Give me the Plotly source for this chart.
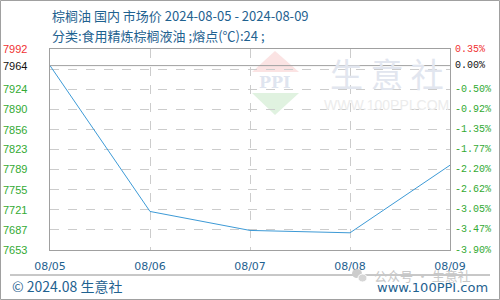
import plotly.graph_objects as go

dates = ["08/05", "08/06", "08/07", "08/08", "08/09"]
prices = [7964, 7718, 7686, 7682, 7796]
base_price = 7964
left_labels = ["7992", "7964", "7924", "7890", "7856", "7823", "7789", "7755", "7721", "7687", "7653"]
right_labels = ["0.35%", "0.00%", "-0.50%", "-0.92%", "-1.35%", "-1.77%", "-2.20%", "-2.62%", "-3.05%", "-3.47%", "-3.90%"]
y_min, y_max = 7653, 7992

title1 = "棕榈油 国内 市场价 2024-08-05 - 2024-08-09"
title2 = "分类:食用精炼棕榈液油 ;熔点(℃):24 ;"
footer_left = "© 2024.08 生意社"
footer_right = "www.100PPI.com"

W, H = 500, 300
L, R, T, B = 50, 50, 49, 50
PW, PH = W - L - R, H - T - B

def px(x):
    return (x - L) / PW

def py(y):
    return (H - B - y) / PH

RED = "#f03232"
GREEN = "#33aa33"
BLUE = "#1f6290"
CJK = "Noto Sans CJK SC"

fig = go.Figure()
fig.add_trace(go.Scatter(
    x=list(range(len(dates))), y=prices, mode="lines",
    line=dict(color="#3d9ad6", width=1), hoverinfo="skip", showlegend=False))

shapes = []
annotations = []

# watermark logo
shapes.append(dict(type="path", xref="paper", yref="paper", layer="below",
                   path=f"M {px(252)} {py(72)} L {px(275)} {py(51)} L {px(299)} {py(72)} Z",
                   fillcolor="#fbe3e3", line=dict(width=0)))
shapes.append(dict(type="path", xref="paper", yref="paper", layer="below",
                   path=f"M {px(252)} {py(93)} L {px(275)} {py(115)} L {px(299)} {py(93)} Z",
                   fillcolor="#e0f2e0", line=dict(width=0)))
annotations.append(dict(xref="paper", yref="paper", x=px(275), y=py(82), text="<b>PPI</b>",
                        showarrow=False, font=dict(family="DejaVu Serif", size=16, color="#dfe5f0"),
                        xanchor="center", yanchor="middle"))
annotations.append(dict(xref="paper", yref="paper", x=px(387), y=py(73), text="生 意 社",
                        showarrow=False, font=dict(family=CJK, size=33, color="#e2e6ef"),
                        xanchor="center", yanchor="middle"))
annotations.append(dict(xref="paper", yref="paper", x=px(386), y=py(105), text="WWW.100PPI.COM",
                        showarrow=False, font=dict(family="Liberation Sans", size=14, color="#ececec"),
                        xanchor="center", yanchor="middle"))

# base price line
shapes.append(dict(type="line", xref="paper", yref="y", x0=0, x1=1, y0=base_price, y1=base_price,
                   line=dict(color="#a0a0a0", width=1)))

# outer border and footer separator
shapes.append(dict(type="rect", xref="paper", yref="paper", x0=px(0.5), x1=px(499.5), y0=py(0.5), y1=py(299.5),
                   line=dict(color="#a0a0a0", width=1)))
shapes.append(dict(type="line", xref="paper", yref="paper", x0=px(10), x1=px(490), y0=py(275), y1=py(275),
                   line=dict(color="#909090", width=1)))

# wechat icon
shapes.append(dict(type="circle", xref="paper", yref="paper", x0=px(352), x1=px(362), y0=py(269), y1=py(278),
                   fillcolor="#cccccc", line=dict(width=0)))
shapes.append(dict(type="circle", xref="paper", yref="paper", x0=px(358), x1=px(367), y0=py(274), y1=py(282),
                   fillcolor="#d6d6d6", line=dict(color="white", width=1)))

# titles
annotations.append(dict(xref="paper", yref="paper", x=px(50), y=py(15), text=title1, showarrow=False,
                        xanchor="left", yanchor="middle", font=dict(family=CJK, size=13, color=BLUE)))
annotations.append(dict(xref="paper", yref="paper", x=px(50), y=py(35), text=title2, showarrow=False,
                        xanchor="left", yanchor="middle", font=dict(family=CJK, size=13, color=BLUE)))

# axis labels
for i, (ll, rl) in enumerate(zip(left_labels, right_labels)):
    col = RED if i == 0 else ("#111111" if i == 1 else GREEN)
    yv = float(ll)
    annotations.append(dict(xref="paper", yref="y", x=px(29), y=yv, text=ll, showarrow=False,
                            xanchor="right", yanchor="middle",
                            font=dict(family="Liberation Sans", size=11, color=col)))
    annotations.append(dict(xref="paper", yref="y", x=px(453), y=yv, text=rl, showarrow=False,
                            xanchor="left", yanchor="middle",
                            font=dict(family="Liberation Mono", size=10, color=col)))

# footer
annotations.append(dict(xref="paper", yref="paper", x=px(10), y=py(286), text=footer_left, showarrow=False,
                        xanchor="left", yanchor="middle", font=dict(family=CJK, size=14, color=BLUE)))
annotations.append(dict(xref="paper", yref="paper", x=px(490), y=py(287), text=footer_right, showarrow=False,
                        xanchor="right", yanchor="middle", font=dict(family="DejaVu Sans", size=13, color=BLUE)))
annotations.append(dict(xref="paper", yref="paper", x=px(372), y=py(275), text="公众号 · 生意社", showarrow=False,
                        xanchor="left", yanchor="middle", font=dict(family=CJK, size=13, color="#c8c8c8")))

fig.update_layout(
    width=W, height=H, margin=dict(l=L, r=R, t=T, b=B, pad=0),
    paper_bgcolor="white", plot_bgcolor="white",
    shapes=shapes, annotations=annotations,
    xaxis=dict(range=[0, len(dates) - 1], tickvals=list(range(len(dates))), ticktext=dates,
               showgrid=True, gridcolor="#cccccc", griddash="dash", gridwidth=1,
               showline=True, mirror=True, linecolor="#a0a0a0", linewidth=1,
               ticks="outside", ticklen=6, tickcolor="rgba(0,0,0,0)", zeroline=False,
               tickfont=dict(family="DejaVu Sans", size=11, color=BLUE), fixedrange=True),
    yaxis=dict(range=[y_min, y_max], tick0=y_min, dtick=(y_max - y_min) / 10,
               showgrid=True, gridcolor="#cccccc", griddash="dash", gridwidth=1,
               showline=True, mirror=True, linecolor="#a0a0a0", linewidth=1,
               showticklabels=False, zeroline=False, ticks="", fixedrange=True),
)

fig.write_html("out.html")
